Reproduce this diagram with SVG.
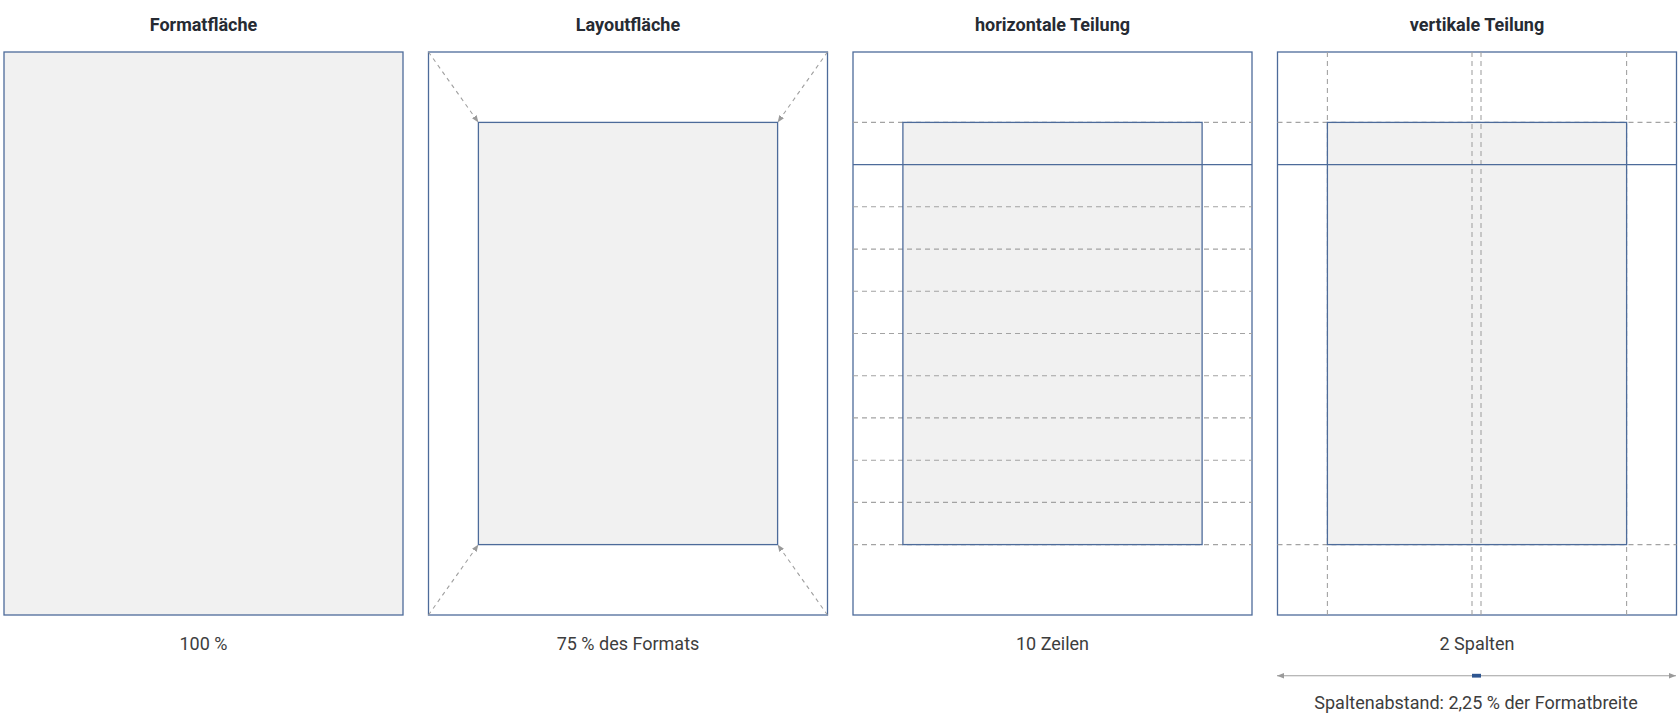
<svg xmlns="http://www.w3.org/2000/svg" width="1680" height="720" viewBox="0 0 1680 720">
  <defs>
    <style>
      .title { font-family: Roboto, "Liberation Sans", sans-serif; font-weight: 700; font-size: 18px; fill: #262b33; text-anchor: middle; }
      .label { font-family: Roboto, "Liberation Sans", sans-serif; font-size: 18px; fill: #3d3d3d; text-anchor: middle; }
      .frame { fill: #ffffff; stroke: #4d6b9a; stroke-width: 1.3; }
      .filled { fill: #f1f1f1; stroke: #4d6b9a; stroke-width: 1.3; }
      .solid { stroke: #4d6b9a; stroke-width: 1.3; fill: none; }
      .dash { stroke: #a3a3a3; stroke-width: 1.1; stroke-dasharray: 5 4; fill: none; }
      .darrow { stroke: #a0a0a0; stroke-width: 1.1; stroke-dasharray: 4 4; fill: none; marker-end: url(#ah); }
      .dim { stroke: #a0a0a0; stroke-width: 1.1; fill: none; marker-start: url(#ahs); marker-end: url(#ah); }
    </style>
    <marker id="ah" viewBox="0 0 10 10" refX="10" refY="5" markerWidth="7" markerHeight="7" markerUnits="userSpaceOnUse" orient="auto">
      <path d="M0,1 L10,5 L0,9 z" fill="#9a9a9a"/>
    </marker>
    <marker id="ahs" viewBox="0 0 10 10" refX="0" refY="5" markerWidth="7" markerHeight="7" markerUnits="userSpaceOnUse" orient="auto">
      <path d="M10,1 L0,5 L10,9 z" fill="#9a9a9a"/>
    </marker>
  </defs>
  <rect width="1680" height="720" fill="#ffffff"/>

  <g id="panel-formatflaeche">
    <text class="title" x="203.5" y="31">Formatfläche</text>
    <rect class="filled" x="4" y="52" width="399" height="563"/>
    <text class="label" x="203.5" y="650">100 %</text>
  </g>

  <g id="panel-layoutflaeche">
    <text class="title" x="628" y="31">Layoutfläche</text>
    <rect class="frame" x="428.5" y="52" width="399" height="563"/>
    <rect class="filled" x="478.4" y="122.4" width="299.2" height="422.2"/>
    <text class="label" x="628" y="650">75 % des Formats</text>
  </g>

  <g id="panel-horizontal">
    <text class="title" x="1052.5" y="31">horizontale Teilung</text>
    <rect class="frame" x="853" y="52" width="399" height="563"/>
    <rect x="902.9" y="122.4" width="299.2" height="422.2" fill="#f1f1f1"/>
    <g>
      <line class="dash" x1="853" y1="122.4" x2="1252" y2="122.4"/>
      <line class="dash" x1="853" y1="206.8" x2="1252" y2="206.8"/>
      <line class="dash" x1="853" y1="249.1" x2="1252" y2="249.1"/>
      <line class="dash" x1="853" y1="291.3" x2="1252" y2="291.3"/>
      <line class="dash" x1="853" y1="333.5" x2="1252" y2="333.5"/>
      <line class="dash" x1="853" y1="375.7" x2="1252" y2="375.7"/>
      <line class="dash" x1="853" y1="417.9" x2="1252" y2="417.9"/>
      <line class="dash" x1="853" y1="460.2" x2="1252" y2="460.2"/>
      <line class="dash" x1="853" y1="502.4" x2="1252" y2="502.4"/>
      <line class="dash" x1="853" y1="544.6" x2="1252" y2="544.6"/>
    </g>
    <rect class="solid" x="902.9" y="122.4" width="299.2" height="422.2"/>
    <line class="solid" x1="853" y1="164.6" x2="1252" y2="164.6"/>
    <text class="label" x="1052.5" y="650">10 Zeilen</text>
  </g>

  <g id="panel-vertikal">
    <text class="title" x="1477" y="31">vertikale Teilung</text>
    <rect class="frame" x="1277.5" y="52" width="399" height="563"/>
    <rect x="1327.4" y="122.4" width="299.2" height="422.2" fill="#f1f1f1"/>
    <line class="dash" x1="1277.5" y1="122.4" x2="1676.5" y2="122.4"/>
    <line class="dash" x1="1277.5" y1="544.6" x2="1676.5" y2="544.6"/>
    <line class="dash" x1="1327.4" y1="52" x2="1327.4" y2="615"/>
    <line class="dash" x1="1626.6" y1="52" x2="1626.6" y2="615"/>
    <line class="dash" x1="1472" y1="52" x2="1472" y2="615"/>
    <line class="dash" x1="1481" y1="52" x2="1481" y2="615"/>
    <rect class="solid" x="1327.4" y="122.4" width="299.2" height="422.2"/>
    <line class="solid" x1="1277.5" y1="164.6" x2="1676.5" y2="164.6"/>
    <text class="label" x="1477" y="650">2 Spalten</text>
    <text class="label" x="1476" y="709">Spaltenabstand: 2,25 % der Formatbreite</text>
  </g>

  <g id="connectors">
    <line class="darrow" x1="428.5" y1="52" x2="478.4" y2="122.4"/>
    <line class="darrow" x1="827.5" y1="52" x2="777.6" y2="122.4"/>
    <line class="darrow" x1="428.5" y1="615" x2="478.4" y2="544.6"/>
    <line class="darrow" x1="827.5" y1="615" x2="777.6" y2="544.6"/>
    <line class="dim" x1="1277" y1="675.7" x2="1676" y2="675.7"/>
  </g>

  <g id="gutter-mark">
    <rect x="1472" y="673.8" width="9" height="3.8" fill="#2d5590"/>
  </g>
</svg>
